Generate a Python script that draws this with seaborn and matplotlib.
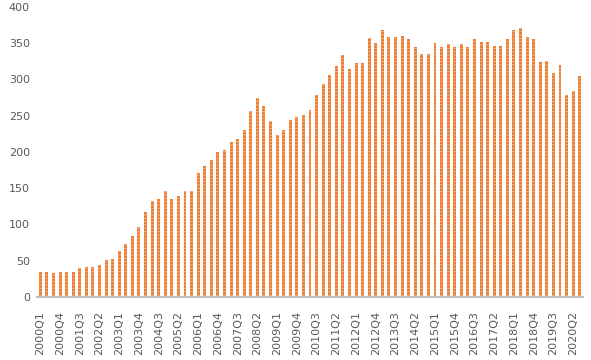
import numpy as np
import pandas as pd
import seaborn as sns
import matplotlib
matplotlib.use("Agg")
import matplotlib.pyplot as plt

# quarterly values, 2000Q1 .. 2020Q3
quarters = [f"{y}Q{q}" for y in range(2000, 2021) for q in range(1, 5)][:83]
values = [34, 34, 33, 35, 35, 35, 39.5, 41, 41, 43.7,
          50.6, 52, 63, 72.6, 83.7, 96, 116.8, 132, 134.7, 145.7,
          134.7, 138.9, 145.7, 145.7, 170.6, 180.2, 188.5, 199.5, 202.3, 213.3,
          217.5, 229.9, 256, 274, 263, 242.3, 223, 229.9, 243.7, 247.8,
          250.6, 257.5, 278.2, 293.3, 305.7, 318.2, 333.3, 314, 322.3, 322.3,
          356.8, 349.9, 367.8, 358.2, 358.2, 359.5, 355.4, 344.4, 334.7, 334.7,
          349.9, 344.4, 348.5, 344.4, 348.5, 344.4, 355.4, 351.3, 351.3, 345.7,
          345.7, 355.4, 367.8, 370.6, 358.2, 355.4, 323.7, 325, 308.5, 319.5,
          278.2, 283.7, 304.4]
yticks = [0, 50, 100, 150, 200, 250, 300, 350, 400]

df = pd.DataFrame({"quarter": quarters, "value": values})

sns.set_style("white")
plt.rcParams["font.family"] = ["DejaVu Sans"]
plt.rcParams["hatch.linewidth"] = 0.6

fig, ax = plt.subplots(figsize=(5.91, 3.6), dpi=100)
fig.subplots_adjust(left=0.0626, right=0.9865, bottom=0.175, top=0.9806)

sns.barplot(data=df, x="quarter", y="value", color="#ED7D31", saturation=1,
            width=0.45, ax=ax)
for p in ax.patches:
    p.set_hatch("-----")
    p.set_edgecolor("#F7B68A")
    p.set_linewidth(0)

ax.set_ylim(0, 400)
ax.set_yticks(yticks)
ax.set_xlim(-0.5, len(quarters) - 0.5)
ax.set_xticks(range(0, len(quarters), 3))
ax.set_xticklabels(quarters[::3], rotation=90)
ax.set_xlabel("")
ax.set_ylabel("")

for s in ["top", "right", "left"]:
    ax.spines[s].set_visible(False)
ax.spines["bottom"].set_color("#BFBFBF")
ax.spines["bottom"].set_linewidth(1.5)

ax.tick_params(axis="both", length=0, labelsize=8, colors="#595959")
ax.tick_params(axis="y", pad=5)
ax.tick_params(axis="x", pad=10)

fig.savefig("out.png", dpi=100)
